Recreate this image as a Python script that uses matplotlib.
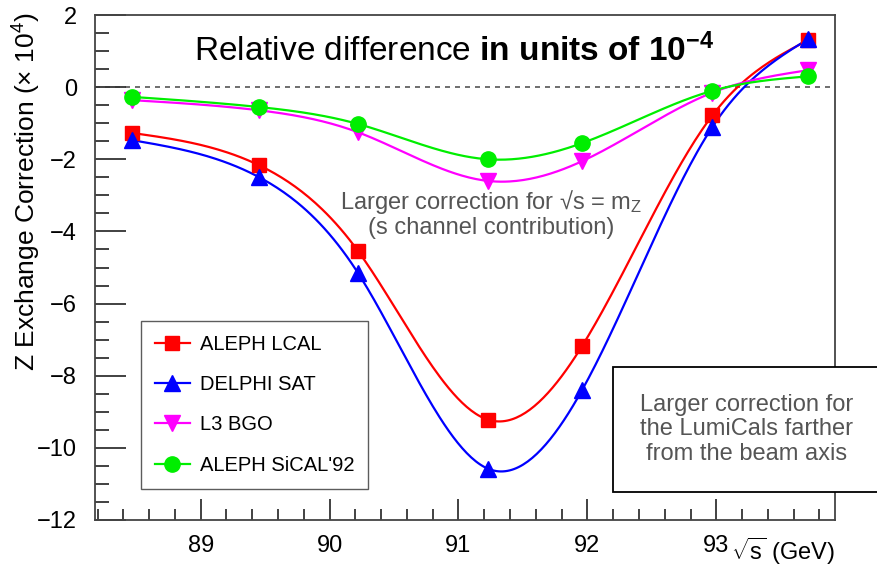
import numpy as np
import matplotlib
matplotlib.use("Agg")
import matplotlib.pyplot as plt
from matplotlib.ticker import MultipleLocator

plt.rcParams['font.family'] = ['Liberation Sans', 'DejaVu Sans']
plt.rcParams['mathtext.fontset'] = 'custom'
plt.rcParams['mathtext.rm'] = 'Liberation Sans'
plt.rcParams['mathtext.it'] = 'Liberation Sans'
plt.rcParams['mathtext.bf'] = 'Liberation Sans:bold'

# energy points (GeV)
sqrt_s = [88.47, 89.45, 90.22, 91.23, 91.96, 92.97, 93.71]

# Z exchange correction (x 10^-4)
aleph_lcal = [-1.27, -2.16, -4.54, -9.22, -7.17, -0.78, 1.30]
delphi_sat = [-1.47, -2.49, -5.15, -10.58, -8.39, -1.10, 1.33]
l3_bgo = [-0.36, -0.64, -1.25, -2.60, -2.05, -0.15, 0.47]
aleph_sical = [-0.27, -0.55, -1.02, -2.00, -1.55, -0.10, 0.30]

labels = ['ALEPH LCAL', 'DELPHI SAT', 'L3 BGO', "ALEPH SiCAL'92"]


def spline(x, y, n=300):
    # natural cubic spline, like ROOT's "C" drawing option
    x = np.asarray(x, float)
    y = np.asarray(y, float)
    m = len(x)
    h = np.diff(x)
    A = np.zeros((m, m))
    b = np.zeros(m)
    A[0, 0] = A[-1, -1] = 1
    for i in range(1, m - 1):
        A[i, i - 1] = h[i - 1]
        A[i, i] = 2 * (h[i - 1] + h[i])
        A[i, i + 1] = h[i]
        b[i] = 3 * ((y[i + 1] - y[i]) / h[i] - (y[i] - y[i - 1]) / h[i - 1])
    c = np.linalg.solve(A, b)
    xs = np.linspace(x[0], x[-1], n)
    idx = np.clip(np.searchsorted(x, xs) - 1, 0, m - 2)
    dx = xs - x[idx]
    bb = (y[1:] - y[:-1]) / h - h * (2 * c[:-1] + c[1:]) / 3
    d = (c[1:] - c[:-1]) / (3 * h)
    ys = y[idx] + bb[idx] * dx + c[idx] * dx**2 + d[idx] * dx**3
    return xs, ys


fig = plt.figure(figsize=(8.77, 5.67), dpi=100)
ax = fig.add_axes([0.1083, 0.0829, 0.8437, 0.8906])

series = [
    (aleph_lcal, '#ff0000', 's', 10),
    (delphi_sat, '#0000ff', '^', 11),
    (l3_bgo, '#ff00ff', 'v', 11),
    (aleph_sical, '#00ee00', 'o', 11),
]

ax.axhline(0, color='#555555', ls=(0, (3, 3)), lw=1.2, zorder=1)

for (vals, col, mk, ms), lab in zip(series, labels):
    xs, ys = spline(sqrt_s, vals)
    ax.plot(xs, ys, color=col, lw=1.6, zorder=2)
    ax.plot(sqrt_s, vals, ls='none', marker=mk, color=col, ms=ms, zorder=3)
    ax.plot([], [], color=col, marker=mk, ms=ms, lw=1.6, label=lab)

ax.set_xlim(88.18, 93.92)
ax.set_ylim(-12, 2)
ax.xaxis.set_major_locator(MultipleLocator(1))
ax.xaxis.set_minor_locator(MultipleLocator(0.2))
ax.yaxis.set_major_locator(MultipleLocator(2))
ax.yaxis.set_minor_locator(MultipleLocator(0.5))
ax.tick_params(which='both', direction='in', top=False, right=False,
               labelsize=17, width=1.3, color='#333333')
ax.tick_params(axis='y', which='major', length=22, pad=13)
ax.tick_params(axis='y', which='minor', length=10)
ax.tick_params(axis='x', which='major', length=15, pad=11)
ax.tick_params(axis='x', which='minor', length=8)
for s in ax.spines.values():
    s.set_color('#444444')
    s.set_linewidth(1.3)

fig.text(27 / 877, 0.661, r'Z Exchange Correction ($\times$ 10$^{4}$)', rotation=90,
         ha='center', va='center', fontsize=19)
fig.text(835 / 877, 7 / 567, r'$\sqrt{\mathrm{s}}$ (GeV)',
         ha='right', va='baseline', fontsize=17)

ax.text(0.486, 0.93, r'Relative difference $\mathbf{in\ units\ of\ 10^{-4}}$',
        transform=ax.transAxes, ha='center', va='center', fontsize=24)
ax.text(91.25, -3.5, 'Larger correction for \u221as = m$_\\mathrm{Z}$\n(s channel contribution)',
        ha='center', va='center', fontsize=17, color='#555555', linespacing=1.05)

fig.text(0.851, 0.243, 'Larger correction for\nthe LumiCals farther\nfrom the beam axis',
         ha='center', va='center', fontsize=17, color='#555555', linespacing=1.15,
         bbox=dict(boxstyle='square,pad=1.15', fc='white', ec='black', lw=1.3))

leg = ax.legend(loc='lower left', bbox_to_anchor=(0.0625, 0.062), fontsize=14.5,
                frameon=True, fancybox=False, edgecolor='#333333',
                labelspacing=1.05, handlelength=1.7, handletextpad=0.5,
                borderpad=0.7, borderaxespad=0)
leg.get_frame().set_linewidth(1.0)

fig.savefig('out.png', dpi=100)
